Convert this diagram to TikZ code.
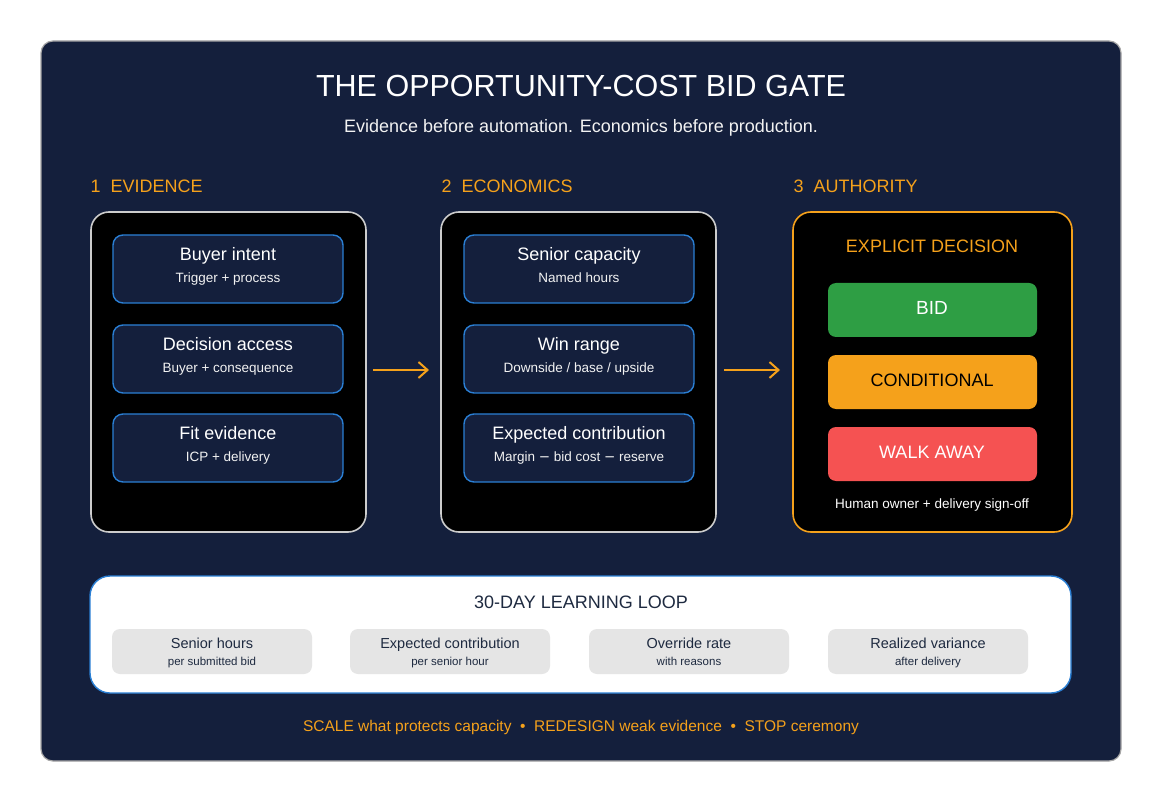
\documentclass[tikz,border=0pt]{standalone}
\usepackage{fontspec}
\setmainfont{Liberation Sans}
\usetikzlibrary{positioning, arrows.meta}
\definecolor{navy}{HTML}{141F3C}
\definecolor{gateorange}{HTML}{F5A11B}
\definecolor{gateblue}{HTML}{2A7FD4}
\definecolor{gategreen}{HTML}{2E9E44}
\definecolor{gatered}{HTML}{F55252}
\definecolor{chipgray}{HTML}{E5E5E5}
\definecolor{inkdark}{HTML}{1E2A40}
\tikzset{
  column/.style={draw=#1, line width=1.6pt, fill=black, rounded corners=18pt},
  card/.style={draw=gateblue, line width=1.4pt, fill=navy, rounded corners=10pt},
  choice/.style={fill=#1, rounded corners=8pt},
  chip/.style={fill=chipgray, rounded corners=8pt},
  head/.style={text=gateorange, font=\fontsize{18}{20}\selectfont, anchor=west},
  flow/.style={-{Straight Barb[length=9pt,width=16pt,line width=2pt]}, draw=gateorange, line width=1.8pt},
  lbl/.style={anchor=base, inner sep=0pt},
}
\newcommand{\minus}{{\fontspec{DejaVu Sans}−}}
\begin{document}
\begin{tikzpicture}[x=1pt, y=-1pt]
\useasboundingbox (0,0) rectangle (1162,802);
\fill[white] (0,0) rectangle (1162,802);
\draw[draw=gray!70, line width=1.2pt, fill=navy, rounded corners=12pt] (41,41) rectangle (1121,761);

\node[lbl, text=white, font=\fontsize{30.5}{34}\selectfont] (title) at (581,97) {THE OPPORTUNITY-COST BID GATE};
\node[lbl, text=white!90!gray, font=\fontsize{18}{20}\selectfont] (subtitle) at (581,133) {Evidence before automation. Economics before production.};

% section heads
\node[head] (h1) at (87,186) {1\ \ EVIDENCE};
\node[head] (h2) at (438,186) {2\ \ ECONOMICS};
\node[head] (h3) at (790,186) {3\ \ AUTHORITY};

% columns
\draw[column=gray!40] (91,212) rectangle (366,532);
\draw[column=gray!40] (441,212) rectangle (716,532);
\draw[column=gateorange] (793,212) rectangle (1072,532);

% evidence and economics cards
\foreach \y/\ta/\sa/\tb/\sb in {
  235/Buyer intent/Trigger + process/Senior capacity/Named hours,
  325/Decision access/Buyer + consequence/Win range/{Downside / base / upside},
  414/Fit evidence/ICP + delivery/Expected contribution/{Margin \minus{} bid cost \minus{} reserve}}{
  \draw[card] (113,\y) rectangle ++(230,68);
  \node[lbl, text=white, font=\fontsize{18}{20}\selectfont] at (228,\y+25.5) {\ta};
  \node[lbl, text=white!90!gray, font=\fontsize{13.5}{15}\selectfont] at (228,\y+47.5) {\sa};
  \draw[card] (464,\y) rectangle ++(230,68);
  \node[lbl, text=white, font=\fontsize{18}{20}\selectfont] at (579,\y+25.5) {\tb};
  \node[lbl, text=white!90!gray, font=\fontsize{13.5}{15}\selectfont] at (579,\y+47.5) {\sb};
}

% flow arrows
\coordinate (a1s) at (373,370); \coordinate (a1e) at (429,370);
\coordinate (a2s) at (724,370); \coordinate (a2e) at (780,370);
\draw[flow] (a1s) -- (a1e);
\draw[flow] (a2s) -- (a2e);

% authority
\node[lbl, text=gateorange, font=\fontsize{18}{20}\selectfont] (explicit) at (932,252.5) {EXPLICIT DECISION};
\fill[choice=gategreen] (828,283) rectangle (1037,337);
\node[lbl, text=white, font=\fontsize{19}{21}\selectfont] (bid) at (932,314.5) {BID};
\fill[choice=gateorange] (828,355) rectangle (1037,409);
\node[lbl, text=black, font=\fontsize{18}{20}\selectfont] (cond) at (932,386.5) {CONDITIONAL};
\fill[choice=gatered] (828,427) rectangle (1037,481);
\node[lbl, text=white, font=\fontsize{18}{20}\selectfont] (walk) at (932,458.5) {WALK AWAY};
\node[lbl, text=white, font=\fontsize{13.5}{15}\selectfont] (owner) at (932,508) {Human owner + delivery sign-off};

% learning loop
\draw[draw=gateblue, line width=1.4pt, fill=white, rounded corners=20pt] (90,576) rectangle (1071,693);
\node[lbl, text=inkdark, font=\fontsize{18}{20}\selectfont] (loop) at (581,608.5) {30-DAY LEARNING LOOP};
\foreach \x/\ta/\sa in {112/Senior hours/per submitted bid, 350/Expected contribution/per senior hour,
  589/Override rate/with reasons, 828/Realized variance/after delivery}{
  \fill[chip] (\x,629) rectangle ++(200,45);
  \node[lbl, text=inkdark, font=\fontsize{14.5}{16}\selectfont] at (\x+100,648.5) {\ta};
  \node[lbl, text=inkdark, font=\fontsize{11.5}{13}\selectfont] at (\x+100,665) {\sa};
}

\node[lbl, text=gateorange, font=\fontsize{15.5}{17}\selectfont] (footer) at (581,731.5)
  {SCALE what protects capacity\ \ •\ \ REDESIGN weak evidence\ \ •\ \ STOP ceremony};
\end{tikzpicture}
\end{document}
